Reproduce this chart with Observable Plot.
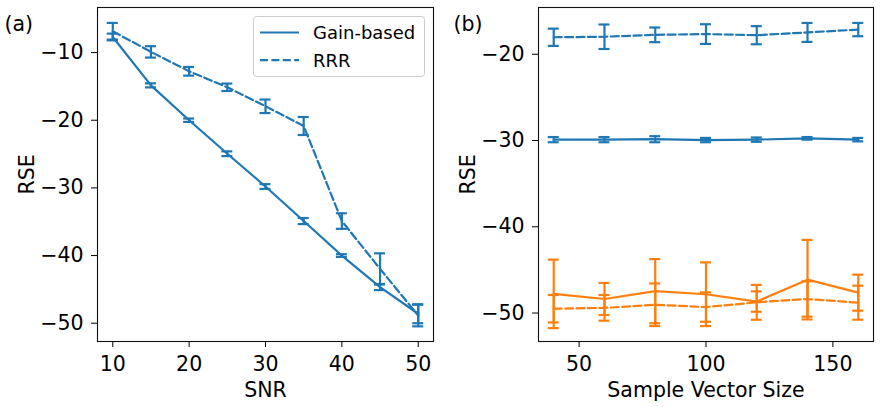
<!DOCTYPE html>
<html><head><meta charset="utf-8">
<script src="https://cdn.jsdelivr.net/npm/d3@7"></script>
<script src="https://cdn.jsdelivr.net/npm/@observablehq/plot@0.6"></script>
<style>
html,body{margin:0;padding:0;background:#fff;}
#wrap{position:relative;width:880px;height:407px;display:flex;}
#legend{position:absolute;left:253px;top:16px;}
</style></head><body><div id="wrap"></div>
<script>
// ---- Panel (a): RSE vs SNR ----
const snr = [10, 15, 20, 25, 30, 35, 40, 45, 50];
const gainA = [-7.7, -14.85, -20.0, -24.95, -29.8, -34.9, -40.0, -44.65, -48.6];
const gainAErr = [0.5, 0.3, 0.25, 0.35, 0.35, 0.45, 0.2, 0.45, 1.4];
const rrrA = [-6.85, -9.9, -12.77, -15.13, -17.94, -20.85, -34.9, -41.97, -48.86];
const rrrAErr = [1.23, 0.84, 0.64, 0.55, 1.0, 1.33, 1.15, 2.3, 1.6];
const xTicksA = [10, 20, 30, 40, 50];
const yTicksA = [-50, -40, -30, -20, -10];

// ---- Panel (b): RSE vs Sample Vector Size ----
const sizes = [40, 60, 80, 100, 120, 140, 160];
const gainB1 = [-29.9, -29.9, -29.85, -29.95, -29.9, -29.75, -29.9];
const gainB1Err = [0.3, 0.3, 0.35, 0.25, 0.25, 0.15, 0.2];
const rrrB1 = [-18.03, -17.97, -17.75, -17.66, -17.79, -17.47, -17.14];
const rrrB1Err = [1.0, 1.42, 0.85, 1.14, 1.05, 1.1, 0.77];
const gainB2 = [-47.78, -48.37, -47.47, -47.82, -48.67, -46.13, -47.64];
const gainB2Err = [3.97, 1.86, 3.72, 3.69, 1.18, 4.61, 2.09];
const rrrB2 = [-49.5, -49.4, -49.04, -49.31, -48.76, -48.37, -48.8];
const rrrB2Err = [1.59, 1.49, 2.47, 1.7, 2.02, 2.05, 1.97];
const xTicksB = [50, 100, 150];
const yTicksB = [-50, -40, -30, -20];

const legendLabels = ["Gain-based", "RRR"];
const BLUE = "#1f77b4", ORANGE = "#ff7f0e";
const FONT = "DejaVu Sans";
const FS = 20.5;
const LW = 2.2;
const DASH = "8,3.4";

function rows(xs, ys, errs) {
  return xs.map((x, i) => ({x, y: ys[i], lo: ys[i] - errs[i], hi: ys[i] + errs[i]}));
}

function seriesMarks(data, color, dashed) {
  const dash = dashed ? {strokeDasharray: DASH} : {};
  const cap = {x1: "x", x2: "x", insetLeft: -5.5, insetRight: -5.5, stroke: color, strokeWidth: LW};
  return [
    Plot.line(data, {x: "x", y: "y", stroke: color, strokeWidth: LW, ...dash}),
    Plot.ruleX(data, {x: "x", y1: "lo", y2: "hi", stroke: color, strokeWidth: LW}),
    Plot.ruleY(data, {y: "lo", ...cap}),
    Plot.ruleY(data, {y: "hi", ...cap})
  ];
}

const fmt = d3.format("d");

function panel({xDomain, yDomain, xTicks, yTicks, xLabel, tag, tagDx, series, marginLeft, marginRight}) {
  return Plot.plot({
    width: 440, height: 407,
    marginTop: 7, marginBottom: 66, marginLeft, marginRight,
    style: {fontFamily: FONT, fontSize: FS + "px", color: "#000", background: "white", overflow: "visible"},
    x: {domain: xDomain, label: null},
    y: {domain: yDomain, label: null},
    marks: [
      ...series.flatMap(s => seriesMarks(s.data, s.color, s.dashed)),
      Plot.frame({stroke: "#111", strokeWidth: 1.1}),
      Plot.axisX({ticks: xTicks, tickFormat: fmt, tickSize: 6, tickPadding: 9, label: null, fontSize: FS}),
      Plot.axisY({ticks: yTicks, tickFormat: fmt, tickSize: 6, tickPadding: 8, label: null, fontSize: FS}),
      Plot.text([xLabel], {frameAnchor: "bottom", lineAnchor: "top", dy: 41, text: d => d, fontSize: FS}),
      Plot.text(["RSE"], {frameAnchor: "left", rotate: -90, dx: -70, lineAnchor: "middle", textAnchor: "middle", text: d => d, fontSize: FS}),
      Plot.text([tag], {frameAnchor: "top-left", textAnchor: "start", lineAnchor: "middle", dx: tagDx, dy: 17, text: d => d, fontSize: FS})
    ]
  });
}

const wrap = document.getElementById("wrap");

const pa = panel({
  xDomain: [8, 52], yDomain: [-52.7, -3.34],
  xTicks: xTicksA, yTicks: yTicksA, xLabel: "SNR", tag: "(a)", tagDx: -93,
  marginLeft: 97, marginRight: 7,
  series: [
    {data: rows(snr, gainA, gainAErr), color: BLUE, dashed: false},
    {data: rows(snr, rrrA, rrrAErr), color: BLUE, dashed: true}
  ]
});
const pb = panel({
  xDomain: [34, 166], yDomain: [-53.3, -14.58],
  xTicks: xTicksB, yTicks: yTicksB, xLabel: "Sample Vector Size", tag: "(b)", tagDx: -85,
  marginLeft: 98, marginRight: 7,
  series: [
    {data: rows(sizes, gainB1, gainB1Err), color: BLUE, dashed: false},
    {data: rows(sizes, rrrB1, rrrB1Err), color: BLUE, dashed: true},
    {data: rows(sizes, gainB2, gainB2Err), color: ORANGE, dashed: false},
    {data: rows(sizes, rrrB2, rrrB2Err), color: ORANGE, dashed: true}
  ]
});
wrap.appendChild(pa);
wrap.appendChild(pb);

// Legend (panel a)
const ns = "http://www.w3.org/2000/svg";
const lg = document.createElementNS(ns, "svg");
lg.setAttribute("id", "legend");
lg.setAttribute("width", 173); lg.setAttribute("height", 62);
lg.style.fontFamily = FONT;
const rect = document.createElementNS(ns, "rect");
Object.entries({x: 0.5, y: 0.5, width: 171, height: 60, rx: 3, fill: "white", "fill-opacity": 0.8, stroke: "#cccccc", "stroke-width": 1}).forEach(([k, v]) => rect.setAttribute(k, v));
lg.appendChild(rect);
legendLabels.forEach((lab, i) => {
  const yy = 16.5 + i * 27.7;
  const ln = document.createElementNS(ns, "line");
  Object.entries({x1: 7, x2: 46, y1: yy, y2: yy, stroke: BLUE, "stroke-width": LW}).forEach(([k, v]) => ln.setAttribute(k, v));
  if (i === 1) ln.setAttribute("stroke-dasharray", DASH);
  lg.appendChild(ln);
  const t = document.createElementNS(ns, "text");
  Object.entries({x: 60, y: yy, "font-size": 18, dy: "0.35em", fill: "#000"}).forEach(([k, v]) => t.setAttribute(k, v));
  t.textContent = lab;
  lg.appendChild(t);
});
wrap.appendChild(lg);
</script>
</body></html>
